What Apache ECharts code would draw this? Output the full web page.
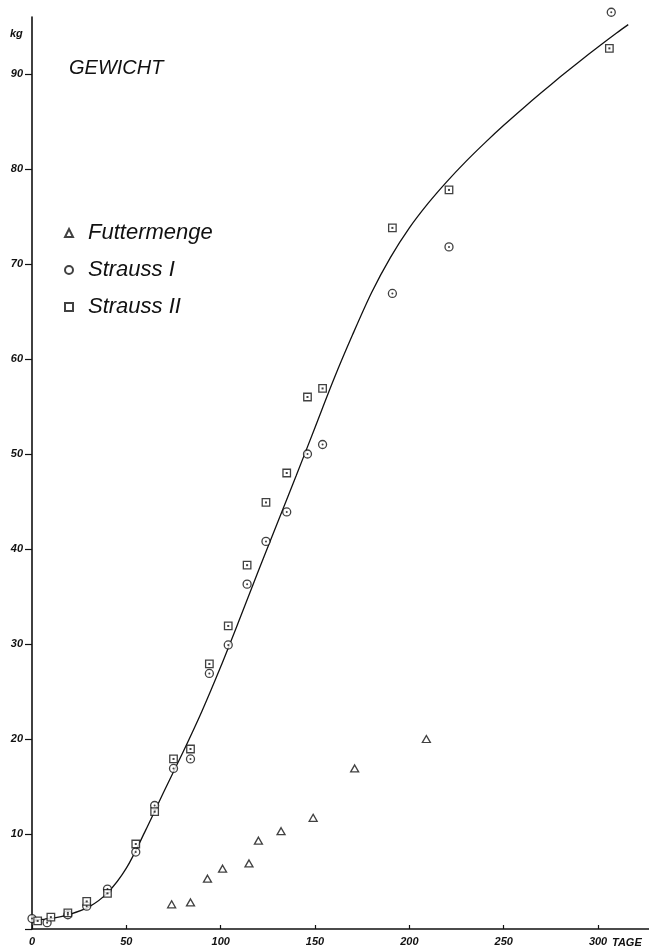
<!DOCTYPE html>
<html>
<head>
<meta charset="utf-8">
<script src="https://cdn.jsdelivr.net/npm/echarts@6/dist/echarts.min.js"></script>
<style>
html,body{margin:0;padding:0;background:#fff;}
#main{width:649px;height:950px;}
</style>
</head>
<body>
<div id="main"></div>
<script>
// Data
const futterDays = [74, 84, 93, 101, 115, 120, 132, 149, 171, 209];
const futterKg   = [2.6, 2.8, 5.3, 6.35, 6.9, 9.3, 10.3, 11.7, 16.9, 20.0];

const strauss1Days = [0, 8, 19, 29, 40, 55, 65, 75, 84, 94, 104, 114, 124, 135, 146, 154, 191, 221, 307];
const strauss1Kg   = [1.1, 0.67, 1.5, 2.4, 4.2, 8.1, 13.0, 16.9, 17.9, 26.9, 29.9, 36.3, 40.8, 43.9, 50.0, 51.0, 66.9, 71.8, 96.5];

const strauss2Days = [3, 10, 19, 29, 40, 55, 65, 75, 84, 94, 104, 114, 124, 135, 146, 154, 191, 221, 306];
const strauss2Kg   = [0.85, 1.25, 1.7, 2.9, 3.75, 8.95, 12.35, 17.9, 18.95, 27.9, 31.9, 38.3, 44.9, 48.0, 56.0, 56.9, 73.8, 77.8, 92.7];

const curveDays = [1, 10, 20, 30, 40, 50, 60, 70, 80, 90, 100, 110, 120, 130, 140, 150, 160, 170, 180, 190, 200, 210, 220, 230, 240, 250, 260, 270, 280, 290, 300, 310, 316];
const curveKg   = [0.95, 1.1, 1.55, 2.3, 3.8, 6.4, 10.3, 14.5, 18.6, 22.9, 27.6, 32.6, 37.7, 42.7, 47.7, 52.8, 57.9, 62.6, 67.0, 70.7, 73.8, 76.4, 78.7, 80.8, 82.75, 84.6, 86.35, 88.05, 89.7, 91.3, 92.85, 94.35, 95.2];

const xTicks = [0, 50, 100, 150, 200, 250, 300];
const yTicks = [10, 20, 30, 40, 50, 60, 70, 80, 90];

const seriesNames = ['Futtermenge', 'Strauss I', 'Strauss II'];
const titleText = 'GEWICHT';
const yUnit = 'kg';
const xUnit = 'TAGE';

function zip(a, b) { return a.map((v, i) => [v, b[i]]); }

const FONT = '"Liberation Sans", Arial, sans-serif';
const chart = echarts.init(document.getElementById('main'), null, {renderer: 'canvas'});

const hollow = {color: '#fff', borderColor: '#111', borderWidth: 1.3};
const dotStyle = {color: '#111'};

chart.setOption({
  backgroundColor: '#fff',
  animation: false,
  grid: {left: 32, right: 0, top: 17, bottom: 21, containLabel: false},
  title: {
    text: titleText, left: 64, top: 53,
    textStyle: {fontFamily: FONT, fontStyle: 'italic', fontWeight: 'normal', fontSize: 20, color: '#111'}
  },
  legend: {
    orient: 'vertical', left: 59, top: 217, itemGap: 15,
    itemWidth: 8, itemHeight: 8,
    data: seriesNames,
    textStyle: {fontFamily: FONT, fontStyle: 'italic', fontSize: 22, color: '#111', padding: [0, 0, 0, 10]},
    selectedMode: false
  },
  xAxis: {
    type: 'value', min: 0, max: 327, interval: 50,
    axisLine: {show: true, lineStyle: {color: '#111', width: 1.6}},
    axisTick: {show: true, inside: true, length: 4, lineStyle: {color: '#111', width: 1.2}},
    splitLine: {show: false},
    axisLabel: {
      margin: 7, color: '#111', fontFamily: FONT, fontStyle: 'italic', fontWeight: 'bold', fontSize: 11,
      showMaxLabel: false,
      formatter: v => xTicks.indexOf(v) >= 0 ? String(v) : ''
    }
  },
  yAxis: {
    type: 'value', min: 0, max: 96, interval: 10,
    axisLine: {show: true, lineStyle: {color: '#111', width: 1.6}},
    axisTick: {show: true, inside: false, length: 7, lineStyle: {color: '#111', width: 1.2}},
    splitLine: {show: false},
    axisLabel: {
      margin: 9, color: '#111', fontFamily: FONT, fontStyle: 'italic', fontWeight: 'bold', fontSize: 11,
      showMaxLabel: false,
      formatter: v => yTicks.indexOf(v) >= 0 ? String(v) : ''
    }
  },
  graphic: [
    {type: 'text', left: 10, top: 28, style: {text: yUnit, font: 'italic bold 11px ' + FONT, fill: '#111'}},
    {type: 'text', left: 612, top: 937, style: {text: xUnit, font: 'italic bold 11px ' + FONT, fill: '#111'}}
  ],
  series: [
    {
      name: 'curve', type: 'line', data: zip(curveDays, curveKg), smooth: 0.3,
      showSymbol: false, silent: true, lineStyle: {color: '#111', width: 1.3}, z: 1
    },
    {
      name: seriesNames[0], type: 'scatter', symbol: 'triangle', symbolSize: [8, 7], clip: false,
      data: zip(futterDays, futterKg), itemStyle: hollow, z: 3
    },
    {
      name: seriesNames[1], type: 'scatter', symbol: 'circle', symbolSize: 8, clip: false,
      data: zip(strauss1Days, strauss1Kg), itemStyle: hollow, z: 3
    },
    {
      name: seriesNames[2], type: 'scatter', symbol: 'rect', symbolSize: 7.5, clip: false,
      data: zip(strauss2Days, strauss2Kg), itemStyle: hollow, z: 4
    },
    {
      name: 'dots1', type: 'scatter', symbol: 'circle', symbolSize: 2, silent: true, clip: false,
      data: zip(strauss1Days, strauss1Kg), itemStyle: dotStyle, z: 5
    },
    {
      name: 'dots2', type: 'scatter', symbol: 'rect', symbolSize: 2, silent: true, clip: false,
      data: zip(strauss2Days, strauss2Kg), itemStyle: dotStyle, z: 5
    }
  ]
});
</script>
</body>
</html>
